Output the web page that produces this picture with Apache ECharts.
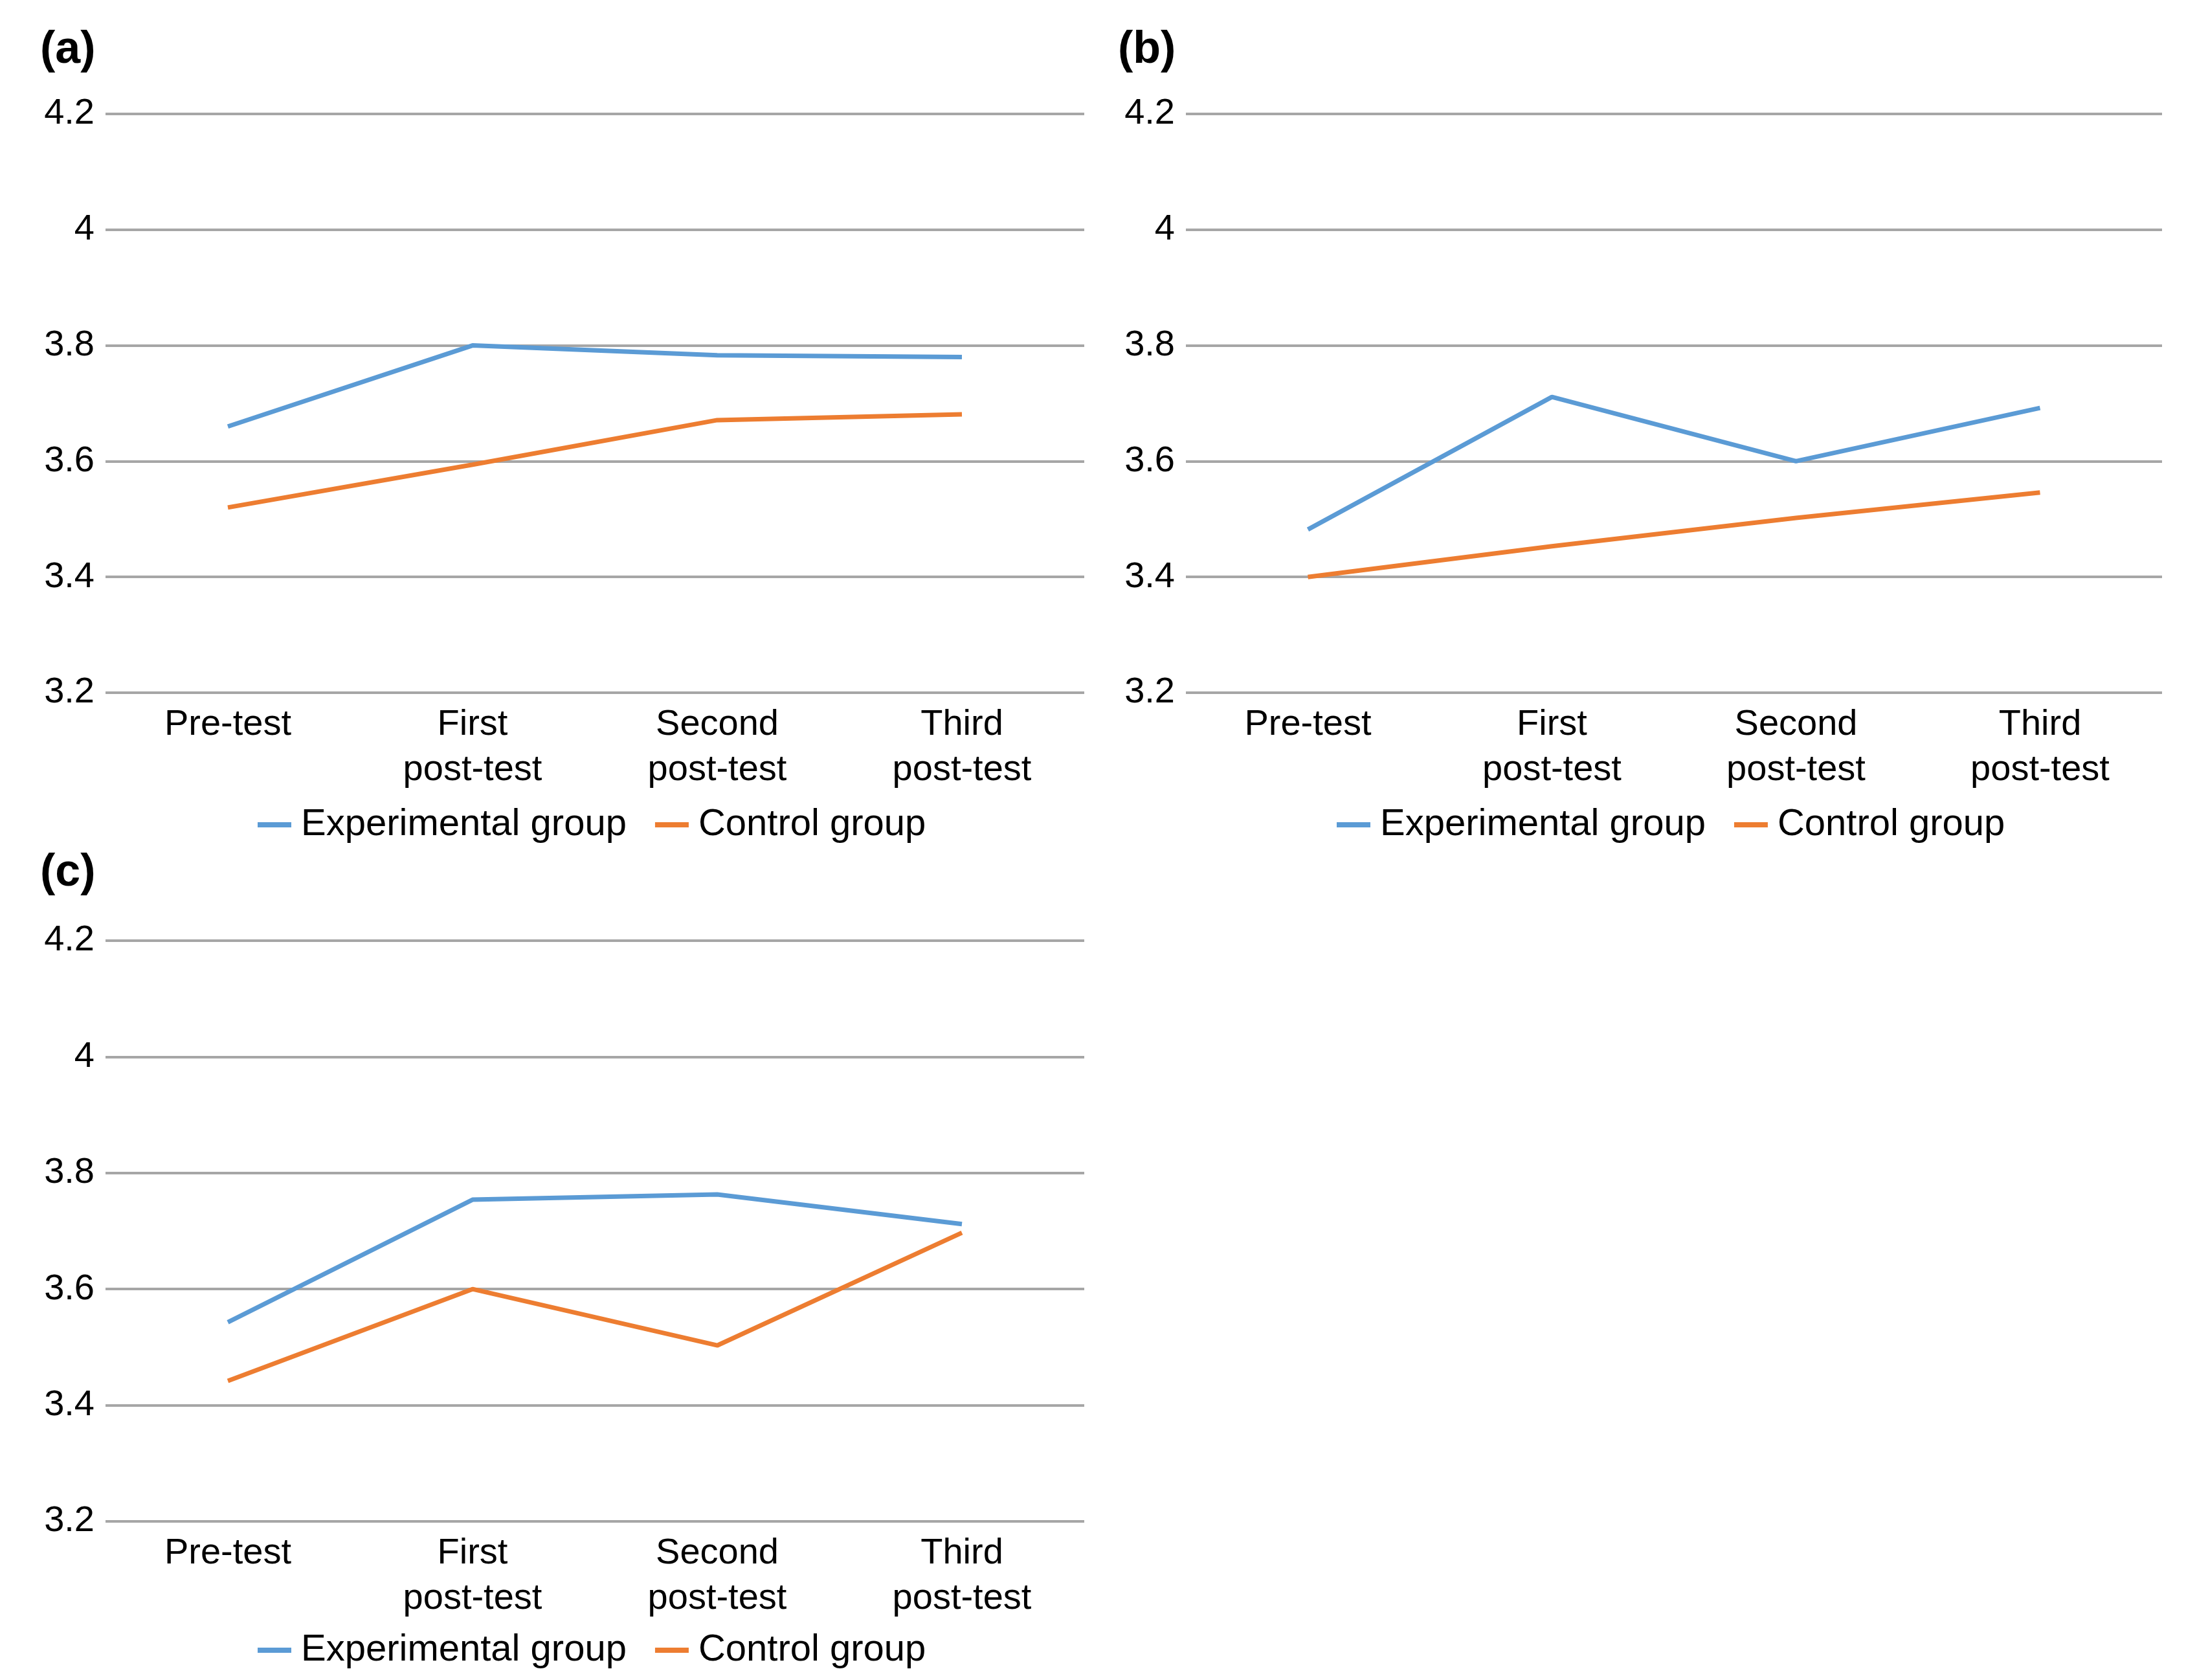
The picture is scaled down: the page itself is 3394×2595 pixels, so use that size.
<!DOCTYPE html>
<html>
<head>
<meta charset="utf-8">
<script src="https://cdn.jsdelivr.net/npm/echarts@6/dist/echarts.min.js"></script>
<style>
html,body{margin:0;padding:0;background:#fff;}
#chart{width:3394px;height:2595px;}
</style>
</head>
<body>
<div id="chart"></div>
<script>
const categories = ['Pre-test', 'First\npost-test', 'Second\npost-test', 'Third\npost-test'];
const seriesNames = ['Experimental group', 'Control group'];
const panelLabels = ['(a)', '(b)', '(c)'];
const yTicks = { min: 3.2, max: 4.2, interval: 0.2 };

const expA = [3.66, 3.80, 3.783, 3.78];
const ctrlA = [3.52, 3.594, 3.671, 3.681];
const expB = [3.482, 3.711, 3.60, 3.692];
const ctrlB = [3.40, 3.453, 3.502, 3.546];
const expC = [3.543, 3.754, 3.763, 3.712];
const ctrlC = [3.442, 3.60, 3.503, 3.697];

const panelData = [[expA, ctrlA], [expB, ctrlB], [expC, ctrlC]];

const FONT = 'Liberation Sans, Arial, sans-serif';
const colors = ['#5B9BD5', '#ED7D31'];

const grids = [
  { left: 163, top: 176, width: 1512, height: 894 },
  { left: 1832, top: 176, width: 1508, height: 894 },
  { left: 163, top: 1453, width: 1512, height: 897 }
];
const titlePos = [ { left: 62, top: 42 }, { left: 1727, top: 42 }, { left: 62, top: 1313 } ];
const legendPos = [ { left: 398, top: 1244 }, { left: 2065, top: 1244 }, { left: 398, top: 2519 } ];

const chart = echarts.init(document.getElementById('chart'), null, { renderer: 'canvas', devicePixelRatio: 1 });

const option = {
  backgroundColor: '#fff',
  animation: false,
  color: colors,
  title: panelLabels.map((t, i) => ({
    text: t, left: titlePos[i].left, top: titlePos[i].top, padding: 0,
    textStyle: { fontFamily: FONT, fontSize: 70, fontWeight: 'bold', color: '#000', lineHeight: 72 }
  })),
  grid: grids.map(g => Object.assign({ containLabel: false }, g)),
  legend: legendPos.map(p => ({
    data: seriesNames, left: p.left, top: p.top, padding: 0,
    icon: 'rect', itemWidth: 52, itemHeight: 8, itemGap: 44,
    textStyle: { fontFamily: FONT, fontSize: 58, color: '#000', lineHeight: 60, padding: [0, 0, 0, 10] }
  })),
  xAxis: grids.map((g, i) => ({
    type: 'category', gridIndex: i, data: categories, boundaryGap: true,
    axisLine: { show: false }, axisTick: { show: false },
    axisLabel: { fontFamily: FONT, fontSize: 56, color: '#000', lineHeight: 70, margin: 15, interval: 0 }
  })),
  yAxis: grids.map((g, i) => ({
    type: 'value', gridIndex: i, min: yTicks.min, max: yTicks.max, interval: yTicks.interval,
    axisLine: { show: false }, axisTick: { show: false },
    axisLabel: { fontFamily: FONT, fontSize: 56, color: '#000', margin: 17,
      formatter: v => String(Math.round(v * 10) / 10) },
    splitLine: { show: true, lineStyle: { color: '#A6A6A6', width: 4 } }
  })),
  series: []
};

panelData.forEach((pair, i) => {
  pair.forEach((vals, k) => {
    option.series.push({
      name: seriesNames[k], type: 'line', xAxisIndex: i, yAxisIndex: i,
      data: vals, symbol: 'none', showSymbol: false,
      lineStyle: { color: colors[k], width: 7 }, itemStyle: { color: colors[k] }
    });
  });
});

chart.setOption(option);
</script>
</body>
</html>
